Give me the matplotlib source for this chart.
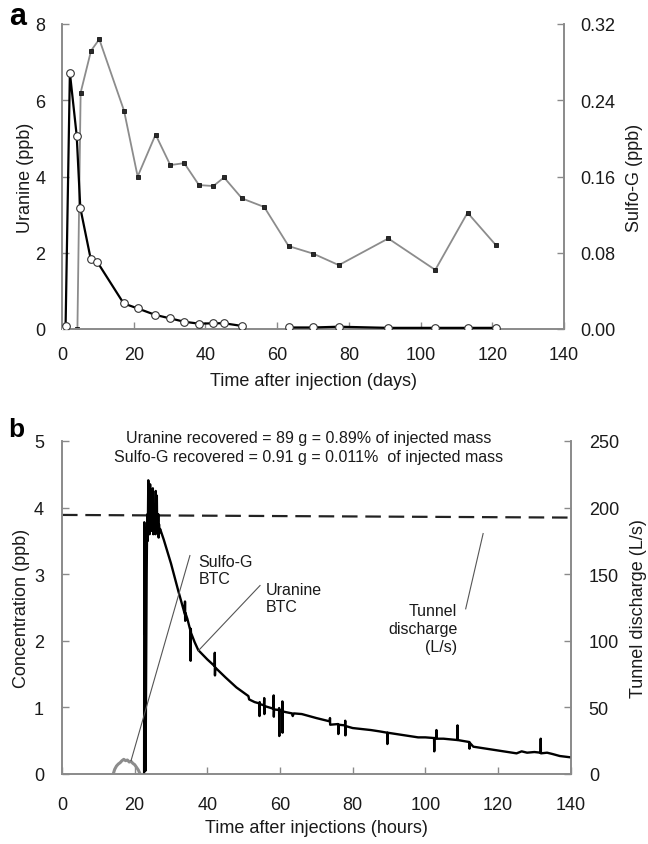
import matplotlib
matplotlib.use("Agg")
import matplotlib.pyplot as plt

plt.rcParams['font.family'] = ['Liberation Sans', 'DejaVu Sans']

# ---------------- Panel a data (days) ----------------
ura_days_1 = [0, 1.0, 2.2, 4.1, 5.1, 8.0, 9.9, 17.2, 21.1, 26.0, 30.1, 34.1, 38.2, 42.2, 45.2, 50.2]
ura_ppb_1 = [0, 0.07, 6.72, 5.07, 3.18, 1.84, 1.75, 0.67, 0.54, 0.37, 0.28, 0.19, 0.14, 0.15, 0.15, 0.08]
ura_days_2 = [63.2, 70.1, 77.2, 91.0, 104.1, 113.1, 121.0]
ura_ppb_2 = [0.04, 0.04, 0.06, 0.03, 0.03, 0.03, 0.03]

sg_days = [0, 1.0, 4.3, 5.2, 8.1, 10.4, 17.3, 21.1, 26.1, 30.2, 34.1, 38.2, 42.2, 45.2,
           50.2, 56.4, 63.2, 70.1, 77.2, 91.0, 104.1, 113.1, 121.0]
sg_ppb = [0, 0, 0, 0.248, 0.292, 0.304, 0.229, 0.160, 0.204, 0.172, 0.174, 0.151, 0.150, 0.159,
          0.137, 0.128, 0.087, 0.079, 0.067, 0.095, 0.062, 0.122, 0.088]

a_xticks = [0, 20, 40, 60, 80, 100, 120, 140]
a_left_ticks = [0, 2, 4, 6, 8]
a_right_ticks = [0.00, 0.08, 0.16, 0.24, 0.32]

# ---------------- Panel b data (hours) ----------------
btc_hours = [22.6, 22.65, 22.7, 22.8, 22.9, 23.0, 23.1, 23.2, 23.3, 23.4, 23.5, 23.6, 23.75,
             23.85, 24.0, 24.1, 24.25, 24.4, 24.5, 24.6, 24.7, 24.8, 25.0, 25.1, 25.2, 25.3,
             25.4, 25.5, 25.6, 25.7, 25.8, 25.9, 26.0, 26.1, 26.2, 26.3, 26.4, 26.5, 26.6,
             26.7, 26.8, 27.0, 28, 30, 32, 33.8, 33.85, 33.9, 33.95, 34.5,
             35.3, 35.4, 35.45, 35.5, 36.5, 37.5, 40, 42.0, 42.05, 42.1, 42.15, 45, 48, 50,
             51.3, 51.5, 53, 54.3, 54.35, 54.4, 54.45, 55.6, 55.65, 55.7, 55.75, 57, 58.2,
             58.25, 58.3, 58.35, 59.7, 59.75, 59.8, 59.85, 60.6, 60.65, 60.7, 60.75, 61.5,
             63.3, 63.5, 63.8, 66, 70, 73.7, 73.75, 73.8, 76.0, 76.05, 76.1, 77.9, 77.95,
             78.0, 78.05, 80, 85, 87.4, 89.5, 89.55, 89.6, 98, 100, 102.4, 102.45, 102.5,
             103.0, 103.05, 103.1, 105, 108.8, 108.85, 108.9, 111, 112.1, 112.15, 112.2,
             113.2, 125.1, 126.5, 128, 130, 131.7, 131.75, 131.8, 133.5, 135, 137, 140]
btc_ppb = [0, 3.78, 2.4, 2.1, 2.46, 0.05, 1.1, 2.0, 3.0, 3.6, 3.9, 3.5, 4.41,
           3.7, 4.2, 3.6, 4.35, 3.75, 4.1, 3.65, 3.95, 3.7, 4.29, 3.6, 3.95, 3.7,
           4.05, 3.65, 3.9, 3.6, 4.25, 3.7, 3.9, 4.18, 3.65, 3.85, 3.6, 3.9, 3.55,
           3.75, 3.62, 3.68, 3.52, 3.16, 2.75, 2.40, 2.59, 2.30, 2.42, 2.33,
           2.16, 1.70, 2.18, 2.12, 1.98, 1.86, 1.72, 1.62, 1.82, 1.48, 1.60, 1.45, 1.30, 1.22,
           1.17, 1.12, 1.08, 1.06, 0.87, 1.08, 1.05, 1.03, 1.14, 0.90, 1.02, 1.00, 0.98,
           1.18, 0.86, 0.97, 0.96, 0.99, 0.57, 0.96, 0.95, 1.09, 0.62, 0.94, 0.93,
           0.91, 0.87, 0.91, 0.90, 0.84, 0.79, 0.84, 0.74, 0.75, 0.60, 0.74, 0.73, 0.80,
           0.58, 0.72, 0.69, 0.66, 0.64, 0.62, 0.45, 0.62, 0.55, 0.55, 0.54, 0.34, 0.54,
           0.54, 0.66, 0.53, 0.53, 0.51, 0.73, 0.51, 0.49, 0.48, 0.38, 0.47,
           0.41, 0.31, 0.34, 0.32, 0.33, 0.32, 0.53, 0.31, 0.32, 0.30, 0.27, 0.25]

sgb_hours = [14.1, 14.5, 15.0, 15.5, 16.0, 16.5, 17.0, 17.5, 18.0, 18.5, 19.0, 19.5, 20.0, 20.5, 21.0, 21.5]
sgb_ppb = [0.0, 0.07, 0.12, 0.15, 0.17, 0.20, 0.22, 0.20, 0.21, 0.18, 0.19, 0.16, 0.14, 0.10, 0.06, 0.0]

q_hours = [0, 140]
q_ls = [194.5, 192.5]

b_xticks = [0, 20, 40, 60, 80, 100, 120, 140]
b_left_ticks = [0, 1, 2, 3, 4, 5]
b_right_ticks = [0, 50, 100, 150, 200, 250]

SPINE = '#8a8a8a'
TXT = '#1a1a1a'
FS_TICK = 13
FS_LAB = 13

fig = plt.figure(figsize=(6.48, 8.45), dpi=100)


def style(ax, xpad, ypad):
    ax.spines['top'].set_visible(False)
    for s in ['left', 'right', 'bottom']:
        ax.spines[s].set_color(SPINE)
        ax.spines[s].set_linewidth(1.2)
    ax.tick_params(direction='in', length=5, width=1.0, color=SPINE,
                   labelsize=FS_TICK, labelcolor=TXT)
    ax.tick_params(axis='x', pad=xpad)
    ax.tick_params(axis='y', pad=ypad)


# ---------------- Panel a ----------------
axa = fig.add_axes([62/648, 1-330/845, 502/648, 305/845])
axa2 = axa.twinx()
axa.set_zorder(axa2.get_zorder() + 1)
axa.patch.set_visible(False)

axa2.plot(sg_days, sg_ppb, color='#8c8c8c', lw=1.3, marker='s', ms=3.2,
          mfc='#2a2a2a', mec='#111111', mew=0.6, zorder=2)
axa.plot(ura_days_1, ura_ppb_1, color='black', lw=1.6, marker='o', ms=5.5,
         mfc='white', mec='#333333', mew=0.8, zorder=3)
axa.plot(ura_days_2, ura_ppb_2, color='black', lw=1.6, marker='o', ms=5.5,
         mfc='white', mec='#333333', mew=0.8, zorder=3)

axa.set_xlim(0, 140)
axa.set_ylim(0, 8)
axa2.set_ylim(0, 0.32)
axa.set_xticks(a_xticks)
axa.set_yticks(a_left_ticks)
axa2.set_yticks(a_right_ticks)
axa2.set_yticklabels([f'{v:.2f}' for v in a_right_ticks])
style(axa, 12, 12)
style(axa2, 12, 12)
axa.set_xlabel('Time after injection (days)', fontsize=FS_LAB, color=TXT, labelpad=7)
axa.set_ylabel('Uranine (ppb)', fontsize=FS_LAB, color=TXT, labelpad=1)
axa2.set_ylabel('Sulfo-G (ppb)', fontsize=FS_LAB, color=TXT, labelpad=7)
fig.text(9/648, 1-17/845, 'a', fontsize=22, fontweight='bold', va='center', ha='left')

# ---------------- Panel b ----------------
axb = fig.add_axes([62/648, 1-775/845, 508.7/648, 333/845])
axb2 = axb.twinx()
axb.set_zorder(axb2.get_zorder() + 1)
axb.patch.set_visible(False)

axb2.plot(q_hours, q_ls, color='#222222', lw=1.6, dashes=(7, 3.5))
axb2.set_ylim(0, 250)
axb.plot(sgb_hours, sgb_ppb, color='#8c8c8c', lw=2.2)
axb.plot(btc_hours, btc_ppb, color='black', lw=1.7)
axb.set_xlim(0, 140)
axb.set_ylim(0, 5)
axb.set_xticks(b_xticks)
axb.set_yticks(b_left_ticks)
axb2.set_yticks(b_right_ticks)
style(axb, 16, 13)
style(axb2, 16, 13)
axb.set_xlabel('Time after injections (hours)', fontsize=FS_LAB, color=TXT, labelpad=4)
axb.set_ylabel('Concentration (ppb)', fontsize=FS_LAB, color=TXT, labelpad=3)
axb2.set_ylabel('Tunnel discharge (L/s)', fontsize=FS_LAB, color=TXT, labelpad=8)
fig.text(8/648, 1-430/845, 'b', fontsize=19, fontweight='bold', va='center', ha='left')

axb.text(0.484, 1.012, 'Uranine recovered = 89 g = 0.89% of injected mass',
         transform=axb.transAxes, ha='center', va='center', fontsize=11.5, color=TXT)
axb.text(0.484, 0.952, 'Sulfo-G recovered = 0.91 g = 0.011%  of injected mass',
         transform=axb.transAxes, ha='center', va='center', fontsize=11.5, color=TXT)

# annotation leader lines
axb.plot([35.2, 19.0], [3.28, 0.2], color='#555555', lw=0.8)
axb.plot([54.5, 37.5], [2.83, 1.85], color='#555555', lw=0.8)
axb.plot([115.9, 111.1], [3.61, 2.48], color='#555555', lw=0.8)
axb.text(37.5, 3.30, 'Sulfo-G\nBTC', ha='left', va='top', fontsize=11.5, color=TXT, linespacing=1.15)
axb.text(56.2, 2.88, 'Uranine\nBTC', ha='left', va='top', fontsize=11.5, color=TXT, linespacing=1.15)
axb.text(108.8, 2.57, 'Tunnel\ndischarge\n(L/s)', ha='right', va='top', fontsize=11.5,
         color=TXT, linespacing=1.25, multialignment='right')

fig.savefig('out.png', dpi=100)
